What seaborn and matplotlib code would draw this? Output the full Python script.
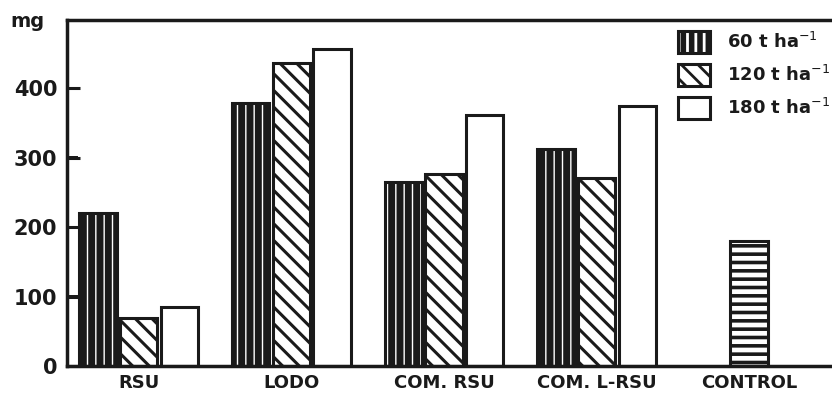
import matplotlib
matplotlib.use("Agg")
import matplotlib.pyplot as plt
import matplotlib.patches as mpatches
import seaborn as sns
import pandas as pd

categories = ["RSU", "LODO", "COM. RSU", "COM. L-RSU", "CONTROL"]
doses = ["60 t ha$^{-1}$", "120 t ha$^{-1}$", "180 t ha$^{-1}$"]
dose_60 = [220, 378, 265, 312]
dose_120 = [69, 436, 276, 270]
dose_180 = [85, 457, 361, 375]
control_value = [180]
y_ticks = [0, 100, 200, 300, 400]

sns.set_style("white", {"ytick.left": True, "ytick.direction": "in"})
plt.rcParams["font.family"] = ["DejaVu Sans"]
plt.rcParams["hatch.linewidth"] = 2.0

rows = []
for vals, d in zip([dose_60, dose_120, dose_180], doses):
    for c, v in zip(categories[:4], vals):
        rows.append({"cat": c, "dose": d, "mg": v})
df = pd.DataFrame(rows)
df_ctrl = pd.DataFrame({"cat": ["CONTROL"], "mg": control_value})

fig = plt.figure(figsize=(8.32, 3.93), dpi=100)
ax = fig.add_axes([0.0805, 0.0687, 0.93, 0.88])

sns.barplot(data=df, x="cat", y="mg", hue="dose", order=categories,
            hue_order=doses, width=0.8, gap=0.08, ax=ax, legend=False,
            errorbar=None, palette=["#1a1a1a", "white", "white"])
sns.barplot(data=df_ctrl, x="cat", y="mg", order=categories, width=0.25,
            ax=ax, errorbar=None, color="white")


def style(p, fc, hatch=None, hc=None, hlw=None):
    p.set_facecolor(fc)
    p.set_edgecolor("#1a1a1a")
    p.set_linewidth(2.2)
    if hatch:
        p.set_hatch(hatch)
        if hc is not None:
            p._hatch_color = hc
        if hlw is not None and hasattr(p, "set_hatch_linewidth"):
            p.set_hatch_linewidth(hlw)


styles = [("#1a1a1a", "||", (1, 1, 1, 1), 1.0),
          ("white", "\\\\", None, 2.2),
          ("white", None, None, None)]
for cont, (fc, hatch, hc, hlw) in zip(ax.containers[:3], styles):
    for p in cont.patches:
        style(p, fc, hatch, hc, hlw)
for p in ax.containers[3].patches:
    style(p, "white", "--", None, 2.6)

ax.set_ylim(0, 498)
ax.set_xlim(-0.47, 4.6)
ax.set_yticks(y_ticks)
ax.set_yticklabels([str(t) for t in y_ticks], fontsize=15, fontweight="bold",
                   color="#1a1a1a")
ax.set_axisbelow(False)
ax.tick_params(axis="y", which="major", direction="in", length=9, width=2.2,
               color="#1a1a1a", pad=7, left=True, labelleft=True)
# inward tick marks drawn as thin patches on the y-axis transform
ytr = ax.get_yaxis_transform()
for t in y_ticks[1:]:
    ax.add_patch(mpatches.Rectangle((0, t - 2.2), 0.014, 4.4, transform=ytr,
                                    facecolor="#1a1a1a", edgecolor="none",
                                    zorder=4, clip_on=False))
ax.tick_params(axis="x", length=0, pad=6)
for lab in ax.get_xticklabels():
    lab.set_fontsize(13)
    lab.set_fontweight("bold")
    lab.set_color("#1a1a1a")
ax.set_xlabel("")
ax.set_ylabel("")
for s in ["left", "bottom", "top"]:
    ax.spines[s].set_visible(True)
    ax.spines[s].set_linewidth(2.5)
    ax.spines[s].set_color("#1a1a1a")
ax.spines["right"].set_visible(False)

fig.text(0.012, 0.945, "mg", fontsize=14, fontweight="bold", color="#1a1a1a",
         va="center", ha="left")

leg = ax.legend(handles=ax.containers[:3], labels=doses, loc="upper right",
                bbox_to_anchor=(1.0, 1.0), frameon=False, fontsize=13,
                handlelength=1.8, handleheight=1.5, labelspacing=0.6,
                handletextpad=0.9, borderaxespad=0.2)
for t in leg.get_texts():
    t.set_fontweight("bold")
    t.set_color("#1a1a1a")

fig.savefig("out.png", dpi=100)
